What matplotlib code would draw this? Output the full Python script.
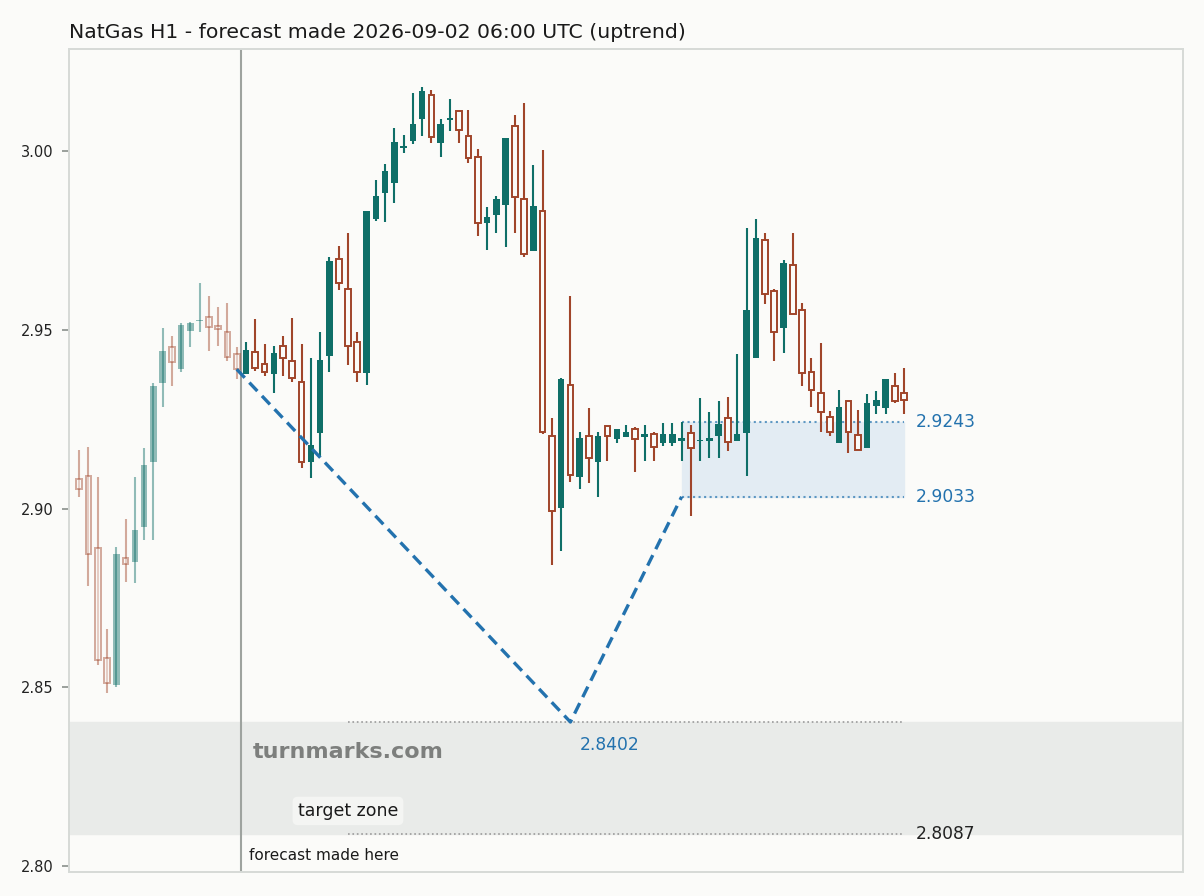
import matplotlib
matplotlib.use("Agg")
import matplotlib.pyplot as plt

# =========================
# DATA
# =========================
title = "NatGas H1 - forecast made 2026-09-02 06:00 UTC (uptrend)"

opens = [2.9082, 2.9090, 2.8889, 2.8580, 2.8506, 2.8861, 2.8851, 2.8949, 2.9131, 2.9352,
         2.9452, 2.9392, 2.9498, 2.9524, 2.9536, 2.9511, 2.9494, 2.9432, 2.9377, 2.9438,
         2.9404, 2.9377, 2.9456, 2.9414, 2.9355, 2.9131, 2.9212, 2.9428, 2.9698, 2.9614,
         2.9466, 2.9379, 2.9811, 2.9883, 2.9913, 3.0010, 3.0030, 3.0090, 3.0157, 3.0023,
         3.0088, 3.0112, 3.0044, 2.9985, 2.9801, 2.9822, 2.9850, 3.0072, 2.9866, 2.9722,
         2.9834, 2.9204, 2.9002, 2.9346, 2.9089, 2.9204, 2.9131, 2.9232, 2.9194, 2.9201,
         2.9224, 2.9201, 2.9210, 2.9184, 2.9184, 2.9190, 2.9211, 2.9189, 2.9190, 2.9203,
         2.9253, 2.9190, 2.9212, 2.9422, 2.9752, 2.9609, 2.9505, 2.9681, 2.9556, 2.9383,
         2.9324, 2.9257, 2.9183, 2.9302, 2.9207, 2.9170, 2.9288, 2.9282, 2.9344, 2.9323]
highs = [2.9163, 2.9173, 2.9089, 2.8662, 2.8893, 2.8970, 2.9089, 2.9169, 2.9352, 2.9505,
         2.9484, 2.9519, 2.9523, 2.9631, 2.9595, 2.9564, 2.9575, 2.9453, 2.9466, 2.9531,
         2.9461, 2.9455, 2.9483, 2.9533, 2.9461, 2.9421, 2.9495, 2.9704, 2.9735, 2.9771,
         2.9494, 2.9833, 2.9920, 2.9965, 3.0065, 3.0046, 3.0163, 3.0181, 3.0172, 3.0091,
         3.0147, 3.0114, 3.0116, 3.0007, 2.9845, 2.9875, 3.0037, 3.0102, 3.0135, 2.9962,
         3.0004, 2.9253, 2.9366, 2.9595, 2.9215, 2.9281, 2.9215, 2.9232, 2.9222, 2.9234,
         2.9229, 2.9234, 2.9215, 2.9240, 2.9240, 2.9243, 2.9234, 2.9309, 2.9269, 2.9301,
         2.9312, 2.9433, 2.9785, 2.9810, 2.9771, 2.9615, 2.9696, 2.9771, 2.9575, 2.9421,
         2.9463, 2.9273, 2.9332, 2.9302, 2.9276, 2.9321, 2.9329, 2.9363, 2.9379, 2.9393]
lows = [2.9031, 2.8783, 2.8562, 2.8482, 2.8501, 2.8793, 2.8790, 2.8912, 2.8912, 2.9285,
        2.9343, 2.9383, 2.9452, 2.9494, 2.9441, 2.9455, 2.9414, 2.9362, 2.9377, 2.9386,
        2.9372, 2.9324, 2.9372, 2.9355, 2.9114, 2.9085, 2.9145, 2.9383, 2.9612, 2.9402,
        2.9355, 2.9346, 2.9806, 2.9803, 2.9857, 2.9997, 3.0021, 3.0043, 3.0025, 2.9985,
        3.0056, 3.0025, 2.9967, 2.9764, 2.9724, 2.9773, 2.9733, 2.9773, 2.9705, 2.9722,
        2.9208, 2.8842, 2.8881, 2.9075, 2.9055, 2.9072, 2.9033, 2.9133, 2.9183, 2.9201,
        2.9103, 2.9133, 2.9133, 2.9175, 2.9175, 2.9133, 2.8979, 2.9134, 2.9142, 2.9142,
        2.9162, 2.9190, 2.9092, 2.9422, 2.9572, 2.9414, 2.9436, 2.9545, 2.9344, 2.9285,
        2.9213, 2.9204, 2.9183, 2.9155, 2.9164, 2.9170, 2.9264, 2.9264, 2.9296, 2.9264]
closes = [2.9054, 2.8872, 2.8575, 2.8510, 2.8872, 2.8844, 2.8939, 2.9121, 2.9343, 2.9441,
          2.9411, 2.9514, 2.9519, 2.9527, 2.9509, 2.9504, 2.9424, 2.9390, 2.9444, 2.9393,
          2.9382, 2.9435, 2.9421, 2.9365, 2.9129, 2.9178, 2.9416, 2.9693, 2.9631, 2.9455,
          2.9382, 2.9833, 2.9875, 2.9945, 3.0027, 3.0014, 3.0077, 3.0170, 3.0040, 3.0077,
          3.0093, 3.0060, 2.9981, 2.9799, 2.9817, 2.9867, 3.0037, 2.9873, 2.9712, 2.9847,
          2.9213, 2.8993, 2.9363, 2.9094, 2.9197, 2.9142, 2.9203, 2.9203, 2.9222, 2.9213,
          2.9194, 2.9208, 2.9171, 2.9208, 2.9208, 2.9197, 2.9170, 2.9192, 2.9197, 2.9237,
          2.9185, 2.9209, 2.9556, 2.9757, 2.9600, 2.9494, 2.9689, 2.9545, 2.9379, 2.9332,
          2.9269, 2.9213, 2.9283, 2.9213, 2.9164, 2.9295, 2.9304, 2.9363, 2.9301, 2.9304]

n_history = 18            # candles before the forecast
forecast_idx = 17         # candle where the forecast was made
trough_idx = 53
zone_start_idx = 65
target_start_idx = 29

start_price = 2.9390
trough_price = 2.8402
box_low = 2.9033
box_high = 2.9243
target_low = 2.8087
target_high = 2.8402

ytick_vals = [2.80, 2.85, 2.90, 2.95, 3.00]
ytick_labels = ["2.80", "2.85", "2.90", "2.95", "3.00"]

# =========================
# STYLE
# =========================
bg = "#fbfbf9"
up_col = "#0f6f68"
down_col = "#a0452a"
blue = "#2372ae"

fig = plt.figure(figsize=(12.04, 8.96), dpi=100, facecolor=bg)
ax = fig.add_axes([0.0573, 0.0268, 0.9253, 0.9185])
ax.set_facecolor(bg)

# =========================
# TARGET ZONE / FORECAST BOX
# =========================
ax.axhspan(target_low, target_high, color="#e9ebe9", zorder=0)
last_idx = len(closes) - 1
ax.hlines([target_low, target_high], target_start_idx, last_idx,
          colors="#9a9a9a", linestyles=":", linewidth=1.2, zorder=1)

ax.fill_between([zone_start_idx, last_idx], box_low, box_high,
                color="#e3ecf3", zorder=0.5)
ax.hlines([box_low, box_high], zone_start_idx, last_idx,
          colors=blue, linestyles=":", linewidth=1.5, alpha=0.7, zorder=1)

# =========================
# CANDLES
# =========================
for i in range(len(closes)):
    o, h, l, c = opens[i], highs[i], lows[i], closes[i]
    alpha = 0.45 if i < n_history else 1.0
    col = up_col if c >= o else down_col
    ax.vlines(i, l, h, color=col, linewidth=1.5, alpha=alpha, zorder=2)
    if c >= o:
        ax.bar(i, max(c - o, 0.0004), bottom=o, width=0.7, color=col,
               alpha=alpha, linewidth=0, zorder=3)
    else:
        ax.bar(i, o - c, bottom=c, width=0.62, facecolor=bg, edgecolor=col,
               alpha=alpha, linewidth=1.4, zorder=3)

# forecast path
ax.plot([forecast_idx, trough_idx, zone_start_idx],
        [start_price, trough_price, box_low],
        color=blue, linestyle=(0, (3.5, 2)), linewidth=2.4, zorder=4)

ax.axvline(forecast_idx + 0.5, color="#9ea39f", linewidth=1.5, zorder=1.5)

# =========================
# TEXT
# =========================
ax.text(trough_idx + 1, trough_price - 0.0064, f"{trough_price:.4f}",
        color=blue, fontsize=12.3, va="center", ha="left")
ax.text(last_idx + 1.3, box_high, f"{box_high:.4f}", color=blue,
        fontsize=12.3, va="center", ha="left")
ax.text(last_idx + 1.3, box_low, f"{box_low:.4f}", color=blue,
        fontsize=12.3, va="center", ha="left")
ax.text(last_idx + 1.3, target_low, f"{target_low:.4f}", color="#222222",
        fontsize=12.3, va="center", ha="left")

ax.text(18.7, 2.8318, "turnmarks.com", color="#7d7f7d", fontsize=16,
        fontweight="bold", va="center", ha="left")
ax.text(target_start_idx, 2.8153, "target zone", color="#1a1a1a", fontsize=12.5,
        va="center", ha="center",
        bbox=dict(boxstyle="round,pad=0.3", facecolor="#f4f5f3", edgecolor="none"))
ax.text(18.3, 2.8029, "forecast made here", color="#1a1a1a", fontsize=11,
        va="center", ha="left")

# =========================
# AXES
# =========================
ax.set_xlim(-1.1, 119.1)
ax.set_ylim(2.7982, 3.0287)
ax.set_yticks(ytick_vals)
ax.set_yticklabels(ytick_labels, fontsize=10.5, color="#222222")
ax.set_xticks([])
ax.tick_params(axis="y", colors="#8a8f8b", labelcolor="#222222",
               labelsize=10.5, length=5, width=1.2, pad=6)
for sp in ax.spines.values():
    sp.set_color("#d6dad7")
    sp.set_linewidth(1.4)

ax.set_title(title, loc="left", fontsize=14.7, color="#1a1a1a", pad=8)

fig.savefig("out.png", dpi=100, facecolor=bg)
